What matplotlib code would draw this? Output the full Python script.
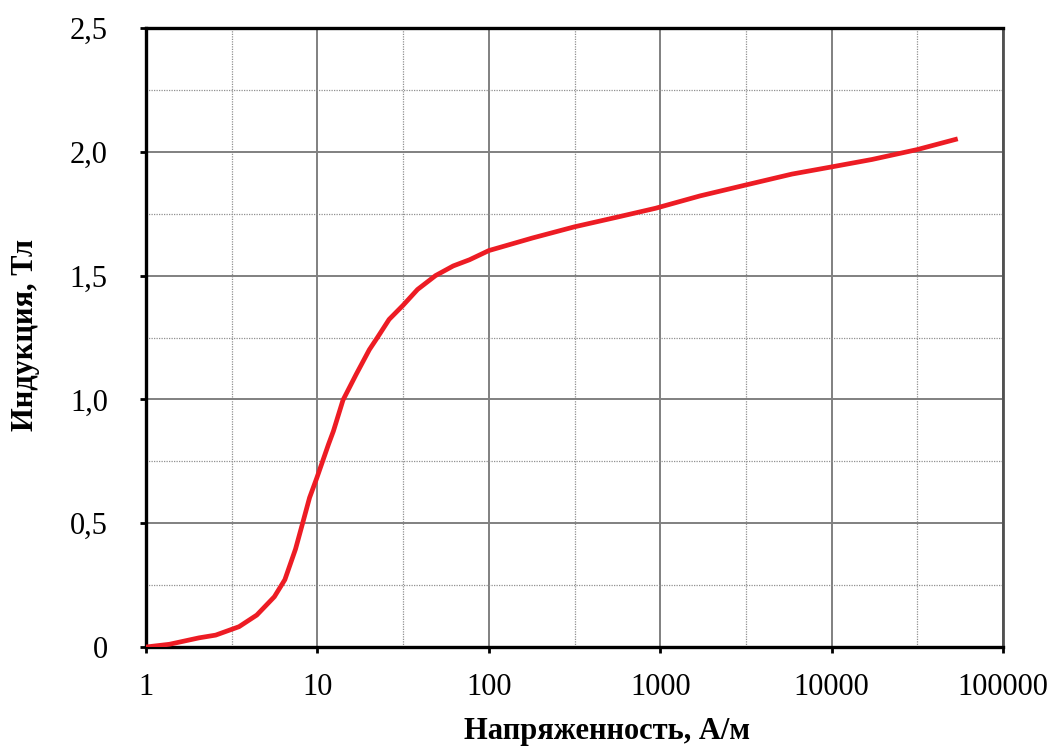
import numpy as np
import matplotlib.pyplot as plt
from matplotlib.ticker import FixedLocator, FixedFormatter, NullFormatter

plt.rcParams['font.family'] = ['Liberation Serif', 'DejaVu Serif']

# кривая намагничивания
H = [1, 1.37, 2.04, 2.55, 3.49, 4.43, 5.61, 6.46, 7.45, 8.2, 9.0, 9.9,
     11.6, 12.4, 14.1, 16.8, 20.1, 22.4, 26.2, 31.6, 38.4, 48.9, 62,
     77.2, 100, 180, 316, 552, 940, 1710, 3160, 5870, 10000, 17200, 31600,
     52800]
B = [0, 0.011, 0.037, 0.048, 0.082, 0.129, 0.203, 0.272, 0.395, 0.5, 0.603,
     0.681, 0.818, 0.872, 0.997, 1.1, 1.201, 1.25, 1.323, 1.38,
     1.444, 1.5, 1.539, 1.564, 1.601, 1.652, 1.697, 1.735, 1.772, 1.822, 1.866,
     1.91, 1.939, 1.969, 2.009, 2.05]

xticks = [1, 10, 100, 1000, 10000, 100000]
xlabels = ['1', '10', '100', '1000', '10000', '100000']
xminor = [10**0.5, 10**1.5, 10**2.5, 10**3.5, 10**4.5]
yticks = [0, 0.5, 1.0, 1.5, 2.0, 2.5]
ylabels = ['0', '0,5', '1,0', '1,5', '2,0', '2,5']
yminor = [0.25, 0.75, 1.25, 1.75, 2.25]

fig = plt.figure(figsize=(10.56, 7.52), dpi=100)
ax = fig.add_axes([146/1056, 105/752, 857/1056, 619/752])

ax.plot(H, B, color='#ED1C24', lw=3.4, zorder=5, solid_joinstyle='round')

ax.set_xscale('log')
ax.set_xlim(1, 100000)
ax.set_ylim(0, 2.5)

ax.xaxis.set_major_locator(FixedLocator(xticks))
ax.xaxis.set_major_formatter(FixedFormatter(xlabels))
ax.xaxis.set_minor_locator(FixedLocator(xminor))
ax.xaxis.set_minor_formatter(NullFormatter())
ax.yaxis.set_major_locator(FixedLocator(yticks))
ax.yaxis.set_major_formatter(FixedFormatter(ylabels))
ax.yaxis.set_minor_locator(FixedLocator(yminor))

ax.grid(which='major', color='#808080', lw=1.4, ls='-')
ax.grid(which='minor', color='#909090', lw=0.9, ls=(0, (1, 1)))

ax.tick_params(which='major', direction='out', length=4.5, width=2,
               labelsize=22, color='black')
ax.tick_params(axis='x', which='major', pad=14)
ax.tick_params(axis='y', which='major', pad=23)
ax.tick_params(which='minor', length=0)

for s in ['left', 'bottom', 'top']:
    ax.spines[s].set_linewidth(2.4)
    ax.spines[s].set_color('black')
ax.spines['right'].set_linewidth(2.0)
ax.spines['right'].set_color('#505050')

fig.text(607/1056, 20/752, 'Напряженность, А/м', ha='center', va='center',
         fontsize=22, fontweight='bold')
fig.text(26/1056, 0.555, 'Индукция, Тл', ha='center', va='center',
         rotation=90, fontsize=22, fontweight='bold')

fig.savefig('out.png', dpi=100)
